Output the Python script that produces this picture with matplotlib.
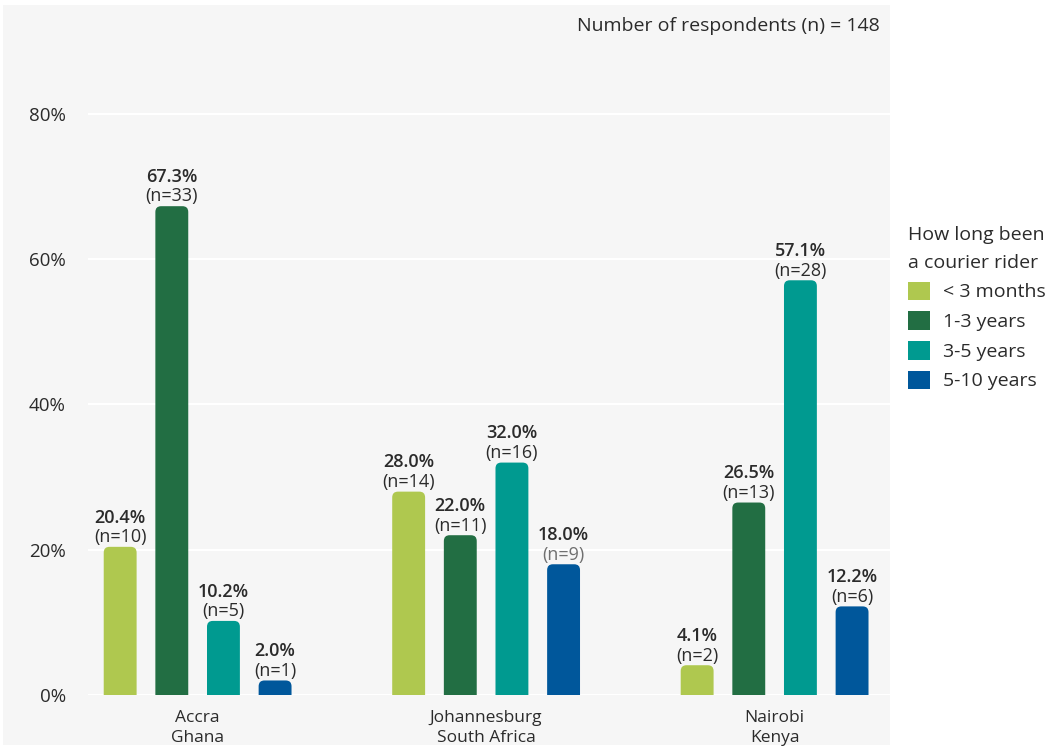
import matplotlib as mpl
mpl.use("Agg")
import matplotlib.pyplot as plt
import numpy as np
from matplotlib.patches import FancyBboxPatch, Rectangle, Patch

cities = ["Accra\nGhana", "Johannesburg\nSouth Africa", "Nairobi\nKenya"]
durations = ["< 3 months", "1-3 years", "3-5 years", "5-10 years"]
pct = [
    [20.4, 28.0, 4.1],   # < 3 months
    [67.3, 22.0, 26.5],  # 1-3 years
    [10.2, 32.0, 57.1],  # 3-5 years
    [2.0, 18.0, 12.2],   # 5-10 years
]
counts = [
    [10, 14, 2],
    [33, 11, 13],
    [5, 16, 28],
    [1, 9, 6],
]
yticks = [0, 20, 40, 60, 80]
total_n = 148

COLORS = ["#afc84f", "#226e43", "#009a90", "#00579b"]
TXT = "#2b2b2b"
PANEL = "#f6f6f6"

plt.rcParams.update({"font.family": ["Open Sans", "DejaVu Sans"], "font.size": 12})

fig = plt.figure(figsize=(10.53, 7.5), dpi=100)
fig.patches.append(Rectangle((3/1053, 5/750), 887/1053, 740/750, transform=fig.transFigure,
                             fc=PANEL, ec="none", zorder=-5))
ax = fig.add_axes([88/1053, 55/750, 802/1053, 690/750])
ax.set_zorder(2)
ax.set_facecolor(PANEL)
ax.set_xlim(-0.38, 2.40)
ax.set_ylim(0, 95)

x = np.arange(len(cities))
step, width = 0.179, 0.114
offsets = (np.arange(len(durations)) - 1.5) * step
aspect = 290 / 7.26  # px per x unit / px per y unit
r = 0.02

for i, lab in enumerate(durations):
    bars = ax.bar(x + offsets[i], pct[i], width, color=COLORS[i], label=lab, zorder=3)
    for b, v, n in zip(bars, pct[i], counts[i]):
        b.set_visible(False)
        bx, bw, bh = b.get_x(), b.get_width(), b.get_height()
        rr = r * aspect
        ax.add_patch(FancyBboxPatch((bx, -rr), bw, bh + rr,
                                    boxstyle=f"round,pad=0,rounding_size={r}",
                                    mutation_aspect=aspect, fc=COLORS[i], ec="none",
                                    zorder=3, clip_on=True))
        cx = bx + bw / 2
        ncol = "#707070" if (i == 3 and n == 9) else TXT
        ax.annotate(f"(n={n})", (cx, v), xytext=(0, 0.5), textcoords="offset points",
                    ha="center", va="bottom", fontsize=13, color=ncol)
        ax.annotate(f"{v:.1f}%", (cx, v), xytext=(0, 14.5), textcoords="offset points",
                    ha="center", va="bottom", fontsize=13, color=TXT, fontweight="semibold")

ax.set_yticks(yticks)
ax.set_yticklabels([f"{t}%" for t in yticks])
ax.set_xticks(x)
ax.set_xticklabels(cities, linespacing=1.35)
ax.tick_params(axis="both", length=0, colors=TXT)
ax.tick_params(axis="y", pad=16, labelsize=13.5)
ax.tick_params(axis="x", pad=11, labelsize=12.5)
ax.grid(axis="y", color="white", lw=1.6, zorder=1)
ax.set_axisbelow(True)
for s in ax.spines.values():
    s.set_visible(False)

fig.text(880/1053, 1 - 26/750, f"Number of respondents (n) = {total_n}", ha="right", va="center",
         fontsize=14, color=TXT)

handles = [Patch(fc=c, ec="none") for c in COLORS]
leg = fig.legend(handles, durations, loc="upper left", bbox_to_anchor=(0.846, 0.722),
                 frameon=False, title="How long been\na courier rider", title_fontsize=14,
                 fontsize=14, handlelength=1.1, handleheight=1.1, handletextpad=0.7,
                 labelspacing=0.5, alignment="left")
leg.get_title().set_color(TXT)
leg.get_title().set_linespacing(1.7)
for t in leg.get_texts():
    t.set_color(TXT)

fig.savefig("out.png", dpi=100)
plt.close(fig)
